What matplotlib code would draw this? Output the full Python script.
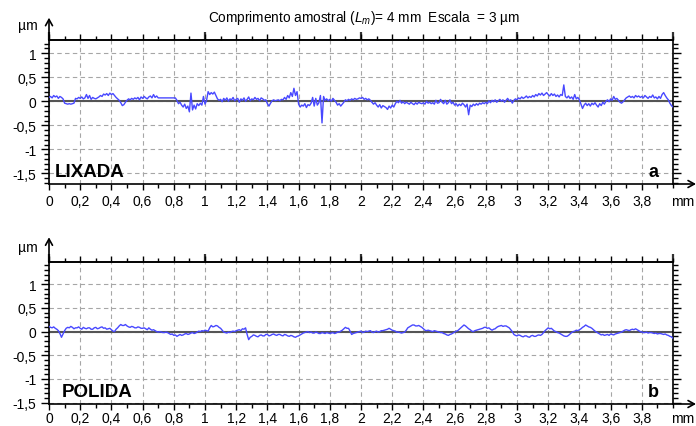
import numpy as np
import matplotlib
matplotlib.use("Agg")
import matplotlib.pyplot as plt
from matplotlib.ticker import MultipleLocator, FixedLocator, FixedFormatter

plt.rcParams["font.family"] = ["Liberation Sans", "DejaVu Sans"]
plt.rcParams["mathtext.fontset"] = "custom"
plt.rcParams["mathtext.rm"] = "Liberation Sans"
plt.rcParams["mathtext.it"] = "Liberation Sans:italic"

# Roughness profile of the sanded (lixada) surface, one sample every 0.01 mm (µm)
lixada_um = [
    0.08, 0.10, 0.07, 0.12, 0.09, 0.11, 0.06, 0.10, 0.08, 0.05,
    -0.04, -0.05, -0.06, -0.05, -0.06, -0.05, -0.04, 0.06, 0.05, 0.08,
    0.06, 0.09, 0.05, 0.07, 0.14, 0.06, 0.12, 0.04, 0.08, 0.06,
    0.05, 0.07, 0.09, 0.12, 0.10, 0.15, 0.13, 0.16, 0.12, 0.17,
    0.14, 0.16, 0.12, 0.08, 0.05, 0.02, -0.03, -0.09, -0.07, -0.02,
    0.02, 0.05, 0.03, 0.06, 0.04, 0.07, 0.05, 0.08, 0.03, 0.09,
    0.06, 0.10, 0.07, 0.05, 0.09, 0.11, 0.07, 0.14, 0.08, 0.11,
    0.07, 0.07, 0.07, 0.07, 0.07, 0.07, 0.07, 0.07, 0.07, 0.07,
    0.07, 0.07, 0.02, -0.05, -0.02, -0.08, -0.12, -0.06, -0.15, -0.10,
    -0.22, 0.17, -0.18, -0.08, -0.16, -0.05, -0.09, -0.04, -0.08, 0.10,
    -0.06, 0.02, 0.20, 0.14, 0.18, 0.15, 0.19, 0.12, 0.05, 0.02,
    0.04, -0.01, 0.06, 0.02, 0.07, 0.00, 0.05, 0.03, 0.08, 0.01,
    0.04, 0.06, -0.02, 0.05, 0.02, 0.07, 0.00, 0.04, 0.09, 0.01,
    0.05, 0.03, 0.08, 0.04, 0.06, 0.01, 0.07, 0.05, 0.02, 0.03,
    -0.05, -0.10, -0.04, 0.01, 0.03, 0.01, 0.02, 0.03, 0.01, 0.04,
    0.03, 0.08, 0.04, 0.12, 0.07, 0.18, 0.10, 0.27, 0.12, 0.20,
    -0.06, -0.12, -0.08, -0.10, -0.05, -0.13, -0.07, -0.09, -0.04, 0.08,
    -0.10, 0.06, -0.08, -0.03, 0.12, -0.45, 0.10, 0.02, 0.05, 0.01,
    0.04, 0.00, 0.06, 0.02, -0.02, -0.08, -0.05, -0.10, -0.06, -0.02,
    0.03, 0.01, 0.04, 0.02, 0.05, 0.03, 0.06, 0.04, 0.05, 0.07,
    0.06, 0.08, 0.04, 0.06, 0.03, 0.05, 0.02, -0.02, -0.06, -0.03,
    -0.08, -0.12, -0.07, -0.14, -0.09, -0.11, -0.13, -0.17, -0.10, -0.14,
    -0.08, -0.12, -0.05, 0.00, -0.03, 0.02, -0.04, -0.01, -0.05, -0.02,
    -0.04, -0.06, -0.02, -0.05, -0.07, -0.03, -0.06, -0.02, -0.04, -0.05,
    -0.03, -0.06, 0.00, -0.04, -0.02, -0.05, -0.03, -0.06, 0.02, -0.04,
    -0.03, 0.04, -0.02, -0.05, 0.02, -0.06, -0.03, 0.03, -0.05, -0.02,
    -0.08, -0.05, -0.10, -0.06, -0.09, -0.04, -0.07, -0.12, -0.06, -0.28,
    -0.08, -0.11, -0.06, -0.09, -0.05, -0.08, -0.04, -0.06, -0.03, -0.05,
    -0.02, -0.05, 0.01, -0.03, 0.02, -0.01, 0.03, -0.02, 0.01, 0.04,
    0.00, 0.03, -0.02, 0.02, 0.06, 0.01, 0.03, -0.04, 0.02, 0.05,
    0.03, 0.07, 0.05, 0.09, 0.06, 0.08, 0.11, 0.07, 0.10, 0.08,
    0.12, 0.09, 0.14, 0.11, 0.16, 0.13, 0.17, 0.12, 0.15, 0.18,
    0.14, 0.11, 0.16, 0.12, 0.15, 0.10, 0.13, 0.09, 0.14, 0.12,
    0.34, 0.10, 0.07, 0.11, 0.06, 0.09, 0.04, 0.14, 0.05, 0.08,
    0.03, -0.06, -0.15, -0.08, -0.04, -0.09, -0.05, -0.10, -0.04, -0.07,
    -0.03, -0.08, -0.12, -0.05, -0.09, -0.02, -0.06, 0.00, 0.03, -0.01,
    0.05, 0.02, 0.10, 0.04, 0.06, 0.02, -0.02, -0.04, -0.01, 0.03,
    0.07, 0.09, 0.11, 0.08, 0.10, 0.07, 0.12, 0.09, 0.11, 0.08,
    0.10, 0.07, 0.12, 0.09, 0.06, 0.10, 0.08, 0.13, 0.07, 0.09,
    0.05, 0.10, 0.06, 0.14, 0.18, 0.12, 0.07, 0.03, -0.04, -0.09,
    -0.12,
]

# Roughness profile of the polished (polida) surface, one sample every 0.01 mm (µm)
polida_um = [
    0.11, 0.09, 0.08, 0.10, 0.07, 0.05, 0.02, -0.04, -0.12, -0.05,
    0.02, 0.07, 0.09, 0.08, 0.11, 0.09, 0.06, 0.08, 0.08, 0.10,
    0.07, 0.05, 0.09, 0.07, 0.06, 0.08, 0.08, 0.05, 0.05, 0.08,
    0.09, 0.06, 0.07, 0.09, 0.10, 0.07, 0.08, 0.05, 0.06, 0.07,
    0.04, 0.01, 0.00, 0.05, 0.08, 0.12, 0.15, 0.13, 0.13, 0.15,
    0.12, 0.10, 0.09, 0.11, 0.10, 0.08, 0.08, 0.10, 0.09, 0.07,
    0.07, 0.08, 0.06, 0.04, 0.08, 0.05, 0.03, 0.04, 0.02, 0.00,
    -0.01, 0.00, -0.01, -0.02, -0.02, -0.01, -0.02, -0.04, -0.06, -0.05,
    -0.08, -0.07, -0.10, -0.08, -0.06, -0.08, -0.07, -0.05, -0.04, -0.06,
    -0.05, -0.03, -0.02, -0.04, -0.03, -0.01, 0.01, 0.00, 0.02, 0.01,
    0.03, 0.02, 0.01, 0.08, 0.13, 0.10, 0.11, 0.13, 0.12, 0.09,
    0.07, 0.03, -0.01, -0.02, -0.03, -0.01, -0.02, 0.00, 0.01, 0.00,
    0.02, 0.03, 0.04, 0.02, 0.06, 0.05, 0.08, -0.06, -0.17, -0.12,
    -0.10, -0.07, -0.08, -0.10, -0.11, -0.08, -0.07, -0.09, -0.09, -0.06,
    -0.06, -0.09, -0.08, -0.06, -0.05, -0.07, -0.08, -0.06, -0.06, -0.08,
    -0.09, -0.06, -0.07, -0.09, -0.10, -0.08, -0.09, -0.11, -0.12, -0.10,
    -0.09, -0.07, -0.05, -0.03, -0.02, -0.01, 0.00, -0.02, -0.01, -0.03,
    -0.03, -0.01, -0.02, -0.04, -0.04, -0.02, -0.03, -0.04, -0.02, -0.03,
    -0.04, -0.03, -0.02, -0.04, -0.03, -0.01, -0.01, 0.01, 0.03, 0.06,
    0.09, 0.07, 0.07, 0.01, -0.06, -0.04, -0.03, -0.02, -0.01, 0.00,
    0.01, -0.02, -0.01, 0.01, 0.00, 0.01, 0.02, -0.01, -0.02, 0.00,
    0.01, -0.01, 0.00, 0.02, 0.02, 0.03, 0.04, 0.05, 0.07, 0.05,
    0.03, 0.02, 0.01, -0.01, -0.01, -0.02, -0.03, -0.02, -0.01, 0.03,
    0.08, 0.10, 0.12, 0.14, 0.14, 0.12, 0.12, 0.13, 0.11, 0.09,
    0.06, 0.03, 0.02, 0.03, 0.02, 0.01, 0.00, 0.02, 0.01, 0.00,
    -0.01, -0.02, -0.02, -0.04, -0.05, -0.07, -0.08, -0.06, -0.05, -0.03,
    -0.01, 0.01, 0.02, 0.05, 0.08, 0.11, 0.14, 0.12, 0.09, 0.06,
    0.04, 0.01, 0.00, 0.02, 0.03, 0.04, 0.05, 0.06, 0.07, 0.09,
    0.09, 0.07, 0.08, 0.05, 0.03, 0.05, 0.06, 0.09, 0.11, 0.12,
    0.13, 0.11, 0.12, 0.12, 0.10, 0.08, 0.04, 0.00, -0.06, -0.08,
    -0.09, -0.07, -0.08, -0.10, -0.11, -0.09, -0.09, -0.11, -0.12, -0.09,
    -0.08, -0.10, -0.10, -0.08, -0.07, -0.08, -0.06, -0.02, 0.02, 0.05,
    0.08, 0.06, 0.07, 0.04, 0.01, 0.00, -0.02, -0.03, -0.05, -0.07,
    -0.09, -0.10, -0.10, -0.08, -0.05, -0.02, 0.00, 0.01, 0.03, 0.02,
    0.04, 0.06, 0.09, 0.11, 0.14, 0.12, 0.10, 0.09, 0.07, 0.04,
    0.01, -0.01, -0.03, -0.05, -0.07, -0.06, -0.08, -0.07, -0.06, -0.08,
    -0.05, -0.06, -0.07, -0.05, -0.04, -0.03, -0.02, -0.01, 0.01, 0.03,
    0.04, 0.03, 0.02, 0.04, 0.05, 0.04, 0.06, 0.04, 0.02, 0.00,
    -0.01, -0.02, -0.02, -0.01, -0.03, -0.02, -0.02, -0.03, -0.04, -0.03,
    -0.05, -0.04, -0.04, -0.05, -0.06, -0.05, -0.07, -0.08, -0.10, -0.11,
    -0.14,
]

x_ticks_mm = [0, 0.2, 0.4, 0.6, 0.8, 1, 1.2, 1.4, 1.6, 1.8,
              2, 2.2, 2.4, 2.6, 2.8, 3, 3.2, 3.4, 3.6, 3.8]
x_tick_labels = ["0", "0,2", "0,4", "0,6", "0,8", "1", "1,2", "1,4", "1,6", "1,8",
                 "2", "2,2", "2,4", "2,6", "2,8", "3", "3,2", "3,4", "3,6", "3,8"]
y_ticks_um = [-1.5, -1, -0.5, 0, 0.5, 1]
y_tick_labels = ["-1,5", "-1", "-0,5", "0", "0,5", "1"]

panels = [
    ("LIXADA", "a", lixada_um, (-1.72, 1.28), 55, 3.0),
    ("POLIDA", "b", polida_um, (-1.53, 1.465), 62, 1.0),
]

W, H = 696, 427
fig = plt.figure(figsize=(W / 100, H / 100), dpi=100)
ax_a = fig.add_axes([49 / W, 1 - 185 / H, 624 / W, 144.3 / H])
ax_b = fig.add_axes([49 / W, 1 - 405 / H, 624 / W, 141.7 / H])

trace_color = "#4848ff"
grid_color = "#a6a6a6"

for ax, (name, letter, values, ylim, name_x, xpad) in zip([ax_a, ax_b], panels):
    x = np.linspace(0, 4, len(values))
    ax.set_xlim(0, 4)
    ax.set_ylim(*ylim)

    ax.xaxis.set_major_locator(FixedLocator(x_ticks_mm))
    ax.xaxis.set_major_formatter(FixedFormatter(x_tick_labels))
    ax.xaxis.set_minor_locator(MultipleLocator(0.1))
    ax.yaxis.set_major_locator(FixedLocator(y_ticks_um))
    ax.yaxis.set_major_formatter(FixedFormatter(y_tick_labels))
    ax.yaxis.set_minor_locator(MultipleLocator(0.1))

    ax.tick_params(axis="x", which="both", direction="out", top=True, bottom=True,
                   labelsize=10, width=1.0, colors="black")
    ax.tick_params(axis="x", which="major", length=4, pad=xpad)
    ax.tick_params(axis="x", which="minor", length=3)
    ax.tick_params(axis="y", which="both", direction="out", left=True, right=True,
                   labelsize=10, width=1.0)
    ax.tick_params(axis="y", which="major", length=6, pad=3)
    ax.tick_params(axis="y", which="minor", length=3.5)

    for side in ["left", "bottom", "top", "right"]:
        ax.spines[side].set_linewidth(1.2)
        ax.spines[side].set_color("black")

    ax.grid(True, which="major", linestyle=(0, (4, 3)), color=grid_color, linewidth=0.8)
    ax.set_axisbelow(True)

    ax.axhline(0, color="#555555", linewidth=1.5, zorder=2)
    ax.plot(x, values, color=trace_color, linewidth=1.0, zorder=3)

    top = ax.secondary_xaxis("top")
    top.set_xticks([0, 1, 2, 3, 4])
    top.tick_params(axis="x", direction="out", length=6, width=1.6, labeltop=False,
                    colors="#333333")
    top.spines["top"].set_linewidth(1.2)

    pos = ax.get_position()
    ax_h_px = pos.height * H
    ax_w_px = pos.width * W

    ax.text((name_x - 49) / ax_w_px, 0.09, name, transform=ax.transAxes, fontsize=13.5,
            fontweight="bold", ha="left", va="center")
    ax.text(0.968, 0.09, letter, transform=ax.transAxes, fontsize=13,
            fontweight="bold", ha="center", va="center")

    # axis arrows
    tip_y = 1 + (22 if letter == "a" else 25) / ax_h_px
    ax.annotate("", xy=(0, tip_y), xytext=(0, 1), xycoords="axes fraction",
                arrowprops=dict(arrowstyle="->,head_length=0.45,head_width=0.25",
                                lw=1.2, color="black", shrinkA=0, shrinkB=0))
    ax.annotate("", xy=(1 + 23 / ax_w_px, 0), xytext=(1, 0), xycoords="axes fraction",
                arrowprops=dict(arrowstyle="->,head_length=0.45,head_width=0.25",
                                lw=1.2, color="black", shrinkA=0, shrinkB=0))

    fig.text(28 / W, pos.y1 + 15 / H, "µm", fontsize=10, ha="center", va="center")
    fig.text(683 / W, pos.y0 - (17 if letter == "a" else 14) / H, "mm",
             fontsize=10, ha="center", va="center")

fig.text(364 / W, 1 - 18 / H,
         r"Comprimento amostral ($\mathit{L_m}$)= 4 mm  Escala  = 3 µm",
         fontsize=9.8, ha="center", va="center")

fig.savefig("out.png", dpi=100)
